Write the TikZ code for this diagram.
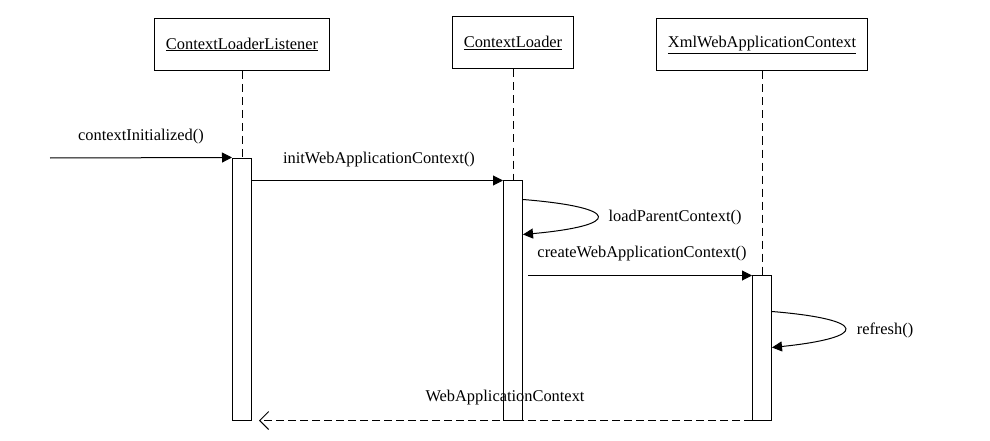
\documentclass[tikz,border=0pt]{standalone}
\usepackage{fontspec}
\setmainfont{Liberation Serif}
\usetikzlibrary{arrows.meta,calc}

\begin{document}
\begin{tikzpicture}[x=1pt,y=-1pt,
      every node/.style={inner sep=0pt,font=\fontsize{16.4}{19}\selectfont},
      head/.style={draw,line width=1pt,minimum height=52pt},
      act/.style={draw,line width=1pt,fill=white,minimum width=19pt},
      life/.style={line width=1pt,dash pattern=on 8pt off 5pt},
      msg/.style={line width=1pt,-{Triangle[length=10pt,width=10pt]}},
      ret/.style={line width=1pt,dash pattern=on 8pt off 4pt,
        shorten >=7pt,-{Straight Barb[length=9pt,width=18pt]}}]
    \useasboundingbox (0,0) rectangle (990,441);
    % object heads
    \node[head,minimum width=175pt] (cll) at (242,44.5) {\underline{ContextLoaderListener}};
    \node[head,minimum width=121pt] (cl) at (513,43) {\underline{ContextLoader}};
    \node[head,minimum width=211pt] (xwac) at (762,45) {\underline{XmlWebApplicationContext}};
    % activations
    \node[act,minimum height=262pt] (a1) at (242,289) {};
    \node[act,minimum height=240pt] (a2) at (513,300) {};
    \node[act,minimum height=145pt] (a3) at (762,347.5) {};
    % lifelines
    \draw[life] (cll) -- (a1);
    \draw[life] (cl) -- (a2);
    \draw[life] (xwac) -- (a3);
    % messages
    \coordinate (src) at (50,158);
    \draw[msg] (src) -- (a1.north west);
    \node (ci) at (141,137) {contextInitialized()};
    \draw[msg] ($(a1.east |- a2.north)+(0,1)$) -- ($(a2.north west)+(0,1)$);
    \node (iwac) at (379,160) {initWebApplicationContext()};
    \draw[msg] ($(a2.north east)+(0,20)$) .. controls +(99,8) and +(99,-9) .. ($(a2.north east)+(0,55)$);
    \node (lpc) at (675,218) {loadParentContext()};
    \draw[msg] ($(a2.east |- a3.north)+(5,1)$) -- ($(a3.north west)+(0,1)$);
    \node (cwac) at (642,254) {createWebApplicationContext()};
    \draw[msg] ($(a3.north east)+(0,37)$) .. controls +(97,8) and +(97,-10) .. ($(a3.north east)+(0,73)$);
    \node (rf) at (885,330) {refresh()};
    \draw[ret] (a3.south west) -- (a1.south east);
    \node (wac) at (505,398) {WebApplicationContext};
  \end{tikzpicture}
\end{document}
